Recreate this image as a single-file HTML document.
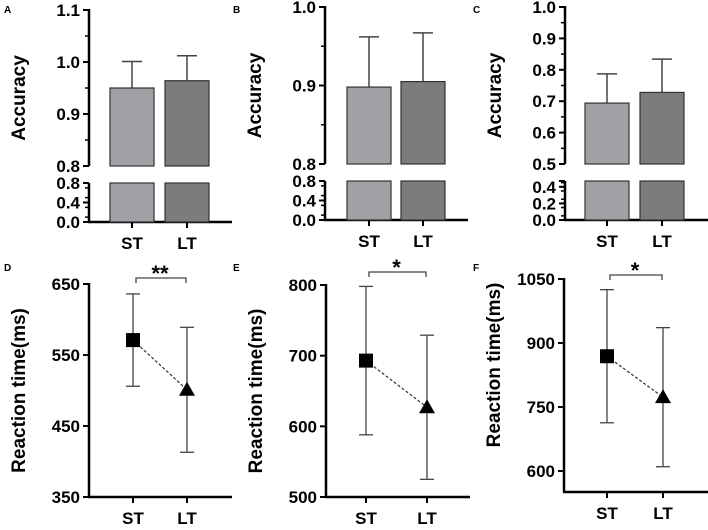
<!DOCTYPE html>
<html><head><meta charset="utf-8"><style>
body{margin:0;background:#fff}
svg{font-family:"Liberation Sans",Arial,sans-serif;font-weight:bold}
</style></head><body>
<svg id="c" width="708" height="525" viewBox="0 0 708 525" xmlns="http://www.w3.org/2000/svg"></svg>
<script>
const groups = ["ST","LT"];
const accA = [0.950, 0.964], accAErr = [0.051, 0.048];
const accB = [0.898, 0.905], accBErr = [0.064, 0.062];
const accC = [0.694, 0.728], accCErr = [0.093, 0.106];
const rtD = [571, 501], rtDErr = [65, 88];
const rtE = [693, 627], rtEErr = [105, 102];
const rtF = [869, 773], rtFErr = [156, 163];
const ticksA = ["0.8","0.9","1.0","1.1"], ticksB = ["0.8","0.9","1.0"], ticksC = ["0.5","0.6","0.7","0.8","0.9","1.0"];
const lowA = ["0.0","0.4","0.8"], lowC = ["0.0","0.2","0.4"];
const ticksD = ["350","450","550","650"], ticksE = ["500","600","700","800"], ticksF = ["600","750","900","1050"];
const sigD = "**", sigE = "*", sigF = "*";

const S = document.getElementById('c'), NS = "http://www.w3.org/2000/svg";
function el(t, a, name, txt){const e=document.createElementNS(NS,t);for(const k in a)e.setAttribute(k,a[k]);


if(txt!==undefined)e.textContent=txt;S.appendChild(e);return e;}
function line(x1,y1,x2,y2,name,w,col,dash){const a={x1,y1,x2,y2,stroke:col||"#000","stroke-width":w||2};if(dash)a["stroke-dasharray"]=dash;return el('line',a,name);}
function txt(x,y,s,size,anchor,name,extra){const a={x,y,"font-size":size,"text-anchor":anchor||"middle"};Object.assign(a,extra||{});return el('text',a,name,s);}

function barPanel(p){
  const ys=v=>p.yTop+(p.dMax-v)/(p.dMax-p.dMin)*(p.yBot-p.yTop);
  const yl=v=>p.lBot+(v-0)/(p.lMax)*(p.lTop-p.lBot);
  txt(p.lx,13,p.letter,10,"start","panel-letter");
  txt(0,0,"Accuracy",19,"middle","y-axis-title",{transform:`translate(${p.ax-64},${(p.yTop+p.yBot)/2+10}) rotate(-90)`});
  line(p.ax,ys(p.dMax)-1,p.ax,p.yBot,"y-axis-upper",2.5);
  p.ticks.forEach(t=>{const v=+t,y=ys(v);line(p.ax-6,y,p.ax,y,"y-tick",2);txt(p.ax-9,y+6,t,17,"end","y-tick-label");});
  for(let i=0;i<p.ticks.length-1;i++){const y=ys((+p.ticks[i]+ +p.ticks[i+1])/2);line(p.ax-4,y,p.ax,y,"y-minor-tick",1.5);}
  line(p.ax,p.lTop,p.ax,p.lBot,"y-axis-lower",2.5);
  line(p.ax-6,p.lTop,p.ax,p.lTop,"y-tick-break",2);
  p.low.forEach(t=>{const y=yl(+t);line(p.ax-6,y,p.ax,y,"y-tick",2);txt(p.ax-9,y+6,t,17,"end","y-tick-label");});
  for(let v=p.lStep/2;v<p.lMax;v+=p.lStep){const y=yl(v);line(p.ax-4,y,p.ax,y,"y-minor-tick",1.5);}
  line(p.ax-1,p.lBot,p.xEnd,p.lBot,"x-axis",2.5);
  const cols=["#a0a0a5","#7c7c7c"];
  groups.forEach((g,i)=>{
    const cx=p.cx[i],w=44;
    line(cx,ys(p.vals[i]+p.err[i]),cx,ys(p.vals[i]),"error-bar",1.5,"#444");
    line(cx-10,ys(p.vals[i]+p.err[i]),cx+10,ys(p.vals[i]+p.err[i]),"error-cap",1.5,"#444");
    el('rect',{x:cx-w/2,y:ys(p.vals[i]),width:w,height:p.yBot-ys(p.vals[i]),fill:cols[i],stroke:"#333","stroke-width":1.2},"bar-upper-"+g.toLowerCase());
    el('rect',{x:cx-w/2,y:p.lTop,width:w,height:p.lBot-p.lTop,fill:cols[i],stroke:"#333","stroke-width":1.2},"bar-lower-"+g.toLowerCase());
    line(cx,p.lBot,cx,p.lBot+6,"x-tick",2);
    txt(cx,p.lBot+27,g,17,"middle","x-tick-label");
  });
}
function rtPanel(p){
  const ys=v=>p.yTop+(p.dMax-v)/(p.dMax-p.dMin)*(p.yBot-p.yTop);
  txt(p.lx,271,p.letter,10,"start","panel-letter");
  txt(0,0,"Reaction time(ms)",19,"middle","y-axis-title",{transform:`translate(${p.ax-64},${(ys(p.ticks[0]*1)+p.yTop)/2+ (p.tOff||0)}) rotate(-90)`});
  line(p.ax,p.yTop-1,p.ax,p.xAxY,"y-axis",2.5);
  line(p.ax-1,p.xAxY,p.xEnd,p.xAxY,"x-axis",2.5);
  p.ticks.forEach(t=>{const y=ys(+t);line(p.ax-6,y,p.ax,y,"y-tick",2);txt(p.ax-9,y+6,t,17,"end","y-tick-label");});
  const pts=groups.map((g,i)=>[p.cx[i],ys(p.vals[i])]);
  line(pts[0][0],pts[0][1],pts[1][0],pts[1][1],"connecting-line",1.2,"#333","3,2");
  groups.forEach((g,i)=>{
    const cx=p.cx[i],t=ys(p.vals[i]+p.err[i]),b=ys(p.vals[i]-p.err[i]);
    line(cx,t,cx,b,"error-bar",1.3,"#444");
    line(cx-7,t,cx+7,t,"error-cap",1.3,"#444");line(cx-7,b,cx+7,b,"error-cap",1.3,"#444");
    line(cx,p.xAxY,cx,p.xAxY+6,"x-tick",2);
    txt(cx,p.xAxY+27,g,17,"middle","x-tick-label");
  });
  el('rect',{x:pts[0][0]-7,y:pts[0][1]-7,width:14,height:14,fill:"#000"},"marker-st");
  const [x,y]=pts[1];el('polygon',{points:`${x},${y-8} ${x-8},${y+6} ${x+8},${y+6}`,fill:"#000"},"marker-lt");
  const by=p.by;
  el('path',{d:`M${p.cx[0]+3},${by+5}V${by}H${p.cx[1]-1}V${by+5}`,fill:"none",stroke:"#444","stroke-width":1.3},"significance-bracket");
  txt((p.cx[0]+p.cx[1])/2,by+3,p.sig,22,"middle","significance-stars");
}
barPanel({letter:"A",lx:4,ax:89,dMin:0.8,dMax:1.1,yTop:10,yBot:166,lTop:183,lBot:222,lMax:0.8,lStep:0.2,ticks:ticksA,low:lowA,cx:[132,187],xEnd:232,vals:accA,err:accAErr});
barPanel({letter:"B",lx:233,ax:325,dMin:0.8,dMax:1.0,yTop:7,yBot:164,lTop:181,lBot:220,lMax:0.8,lStep:0.2,ticks:ticksB,low:lowA,cx:[369,423],xEnd:468,vals:accB,err:accBErr});
barPanel({letter:"C",lx:473,ax:565,dMin:0.5,dMax:1.0,yTop:7,yBot:164,lTop:181,lBot:220,lMax:0.47,lStep:0.1,ticks:ticksC,low:lowC,cx:[607,662],xEnd:708,vals:accC,err:accCErr});
rtPanel({letter:"D",ax:89,lx:4,dMin:350,dMax:650,yTop:284,yBot:497,xAxY:497,xEnd:232,ticks:ticksD,cx:[133,187],vals:rtD,err:rtDErr,by:278,sig:sigD,tOff:0});
rtPanel({letter:"E",ax:326,lx:233,dMin:500,dMax:800,yTop:285,yBot:497,xAxY:497,xEnd:470,ticks:ticksE,cx:[366,427],vals:rtE,err:rtEErr,by:272,sig:sigE});
rtPanel({letter:"F",ax:564,lx:473,dMin:600,dMax:1050,yTop:279,yBot:471,xAxY:492,xEnd:708,ticks:ticksF,cx:[607,663],vals:rtF,err:rtFErr,by:275,sig:sigF,tOff:-10});
</script>
</body></html>
